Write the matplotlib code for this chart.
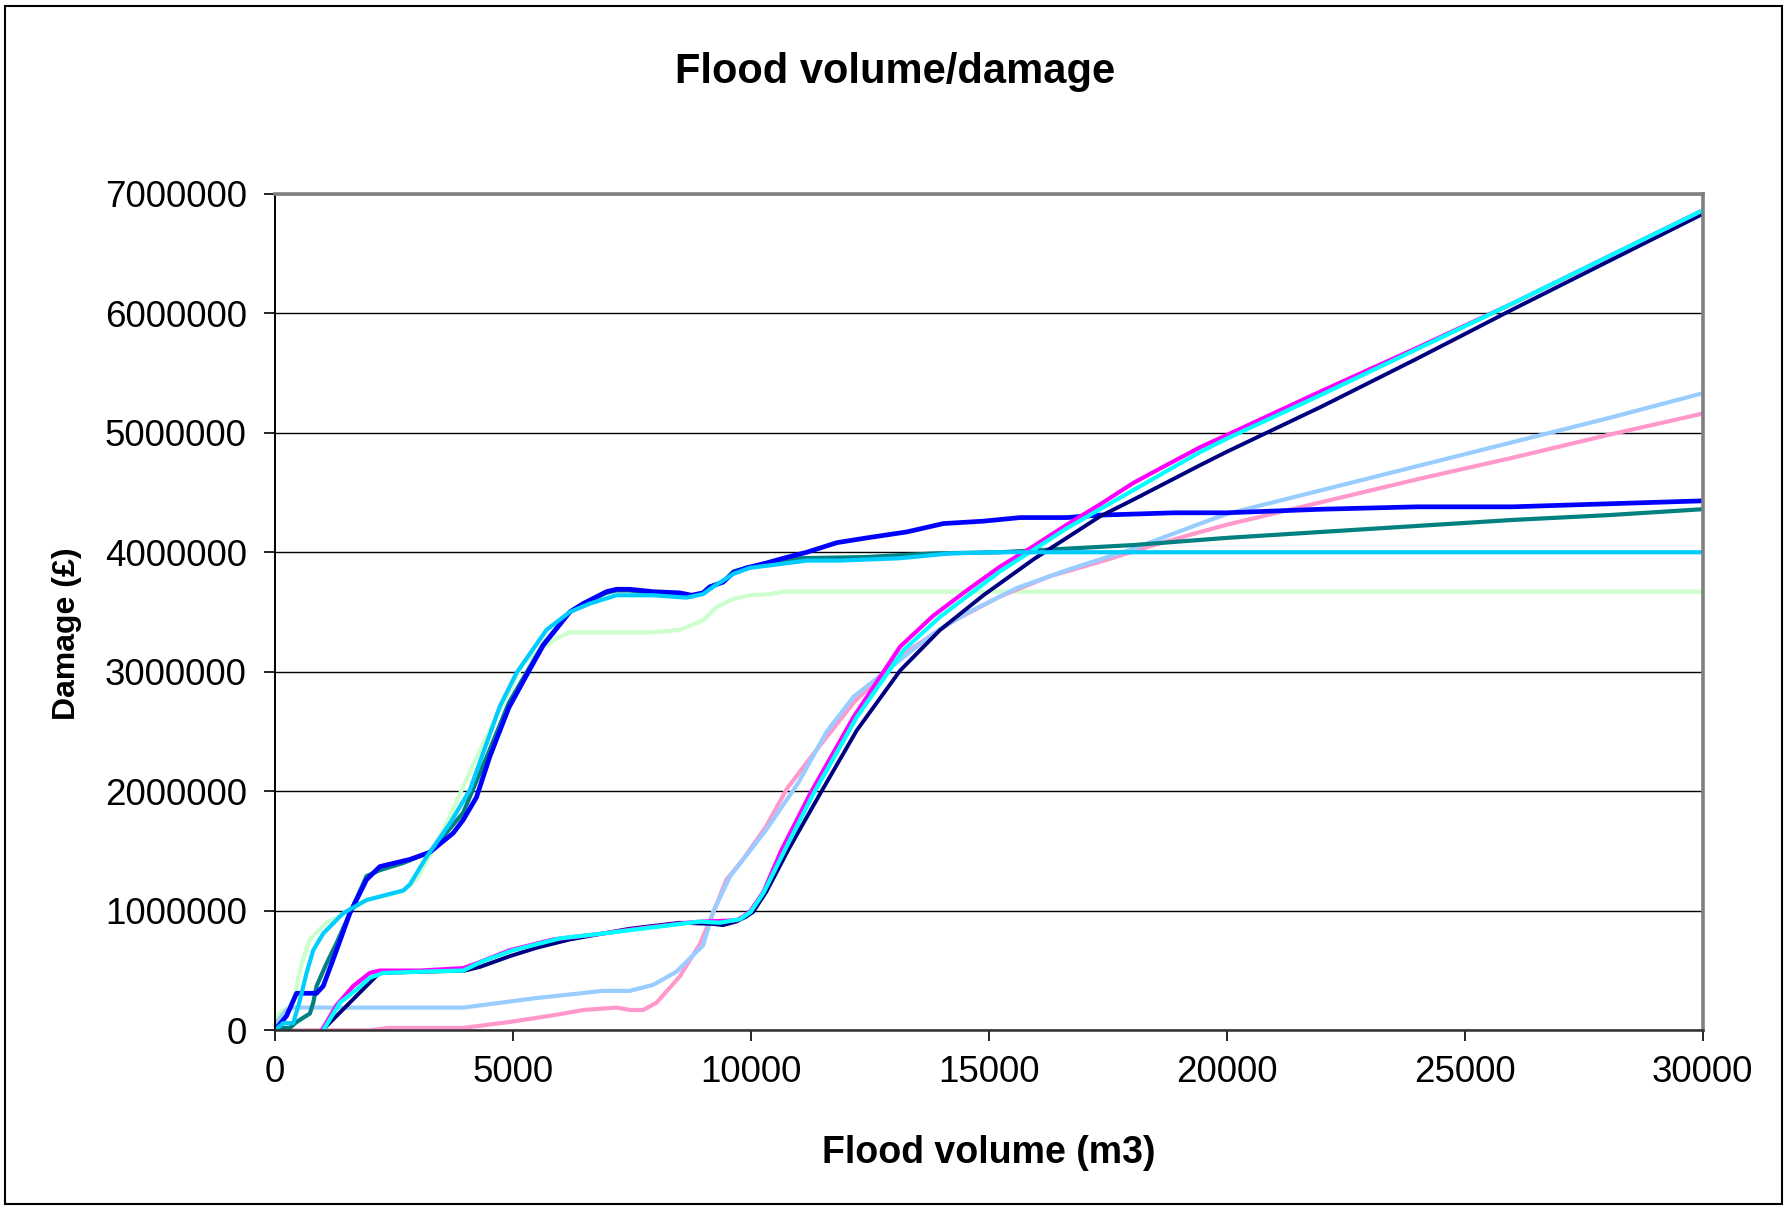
import matplotlib
matplotlib.use('Agg')
import matplotlib.pyplot as plt
from matplotlib.patches import Rectangle
from matplotlib.ticker import FuncFormatter

plt.rcParams['font.family'] = ['Liberation Sans', 'DejaVu Sans']

# values: flood volume in thousand m3, damage in million GBP
blue_x = [0, 0.25, 0.46, 0.88, 1.02, 1.3, 1.58, 1.93, 2.21, 2.84, 3.26, 3.75, 3.96, 4.24, 4.52, 4.92,
          5.36, 5.64, 6.2, 6.48, 6.97, 7.18, 7.46, 7.95, 8.51, 8.76, 9.0, 9.14, 9.42, 9.64, 9.92,
          10.33, 10.69, 11.18, 11.81, 12.44, 13.28, 14.05, 14.89, 15.66, 16.64, 17.3, 18.9, 20, 22, 24, 26, 30]
blue_y = [0, 0.12, 0.31, 0.31, 0.37, 0.67, 0.98, 1.26, 1.37, 1.43, 1.49, 1.65, 1.76, 1.95, 2.29, 2.70,
          3.02, 3.22, 3.50, 3.57, 3.67, 3.69, 3.69, 3.67, 3.66, 3.64, 3.66, 3.71, 3.75, 3.83, 3.87,
          3.91, 3.95, 4.0, 4.08, 4.12, 4.17, 4.24, 4.26, 4.29, 4.29, 4.31, 4.33, 4.33, 4.36, 4.38, 4.38, 4.43]

teal_x = [0, 0.32, 0.46, 0.74, 0.81, 0.88, 1.09, 1.3, 1.58, 1.93, 2.21, 2.7, 3.26, 3.96, 4.52, 4.92,
          5.36, 5.64, 6.2, 6.48, 6.97, 7.18, 7.46, 7.95, 8.51, 8.76, 9.0, 9.14, 9.42, 9.64, 9.92,
          10.33, 11.04, 12.44, 13.84, 15.24, 16.64, 18.04, 20, 22, 24, 26, 28, 30]
teal_y = [0.02, 0.02, 0.07, 0.14, 0.23, 0.37, 0.56, 0.73, 0.98, 1.29, 1.34, 1.40, 1.49, 1.82, 2.35, 2.74,
          3.04, 3.23, 3.50, 3.57, 3.66, 3.68, 3.68, 3.66, 3.65, 3.63, 3.66, 3.71, 3.75, 3.84, 3.87,
          3.90, 3.95, 3.96, 3.99, 4.0, 4.03, 4.06, 4.12, 4.17, 4.22, 4.27, 4.31, 4.36]

sky_x = [0, 0.18, 0.39, 0.53, 0.67, 0.81, 1.02, 1.44, 1.93, 2.7, 2.84, 3.19, 3.68, 4.1, 4.73,
         5.08, 5.36, 5.71, 6.2, 6.62, 7.18, 7.95, 8.65, 9.0, 9.21, 9.64, 9.99, 10.4, 11.18, 11.88,
         13.14, 14.19, 15.24, 30]
sky_y = [0, 0.06, 0.06, 0.25, 0.48, 0.67, 0.81, 0.98, 1.09, 1.17, 1.22, 1.45, 1.73, 2.01, 2.71,
         2.99, 3.15, 3.35, 3.50, 3.57, 3.64, 3.64, 3.62, 3.65, 3.71, 3.82, 3.87, 3.89, 3.93, 3.93,
         3.95, 3.99, 4.0, 4.0]

green_x = [0, 0.08, 0.32, 0.43, 0.57, 0.74, 1.09, 1.58, 1.93, 2.7, 2.98, 3.33, 3.68, 4.03, 4.38, 4.73,
           5.22, 5.57, 5.92, 6.2, 7.95, 8.51, 9.0, 9.28, 9.64, 9.99, 10.4, 10.69, 30]
green_y = [0, 0.14, 0.20, 0.31, 0.56, 0.76, 0.90, 1.0, 1.09, 1.16, 1.26, 1.51, 1.79, 2.10, 2.40, 2.68,
           3.07, 3.18, 3.28, 3.33, 3.33, 3.35, 3.43, 3.54, 3.61, 3.64, 3.65, 3.67, 3.67]

magenta_x = [0.99, 1.3, 1.65, 2.0, 2.21, 3.05, 3.96, 4.24, 4.94, 5.85, 6.9, 7.6, 8.65, 9.0, 9.7, 9.84,
             10.0, 10.27, 10.65, 11.25, 12.16, 13.14, 13.84, 14.54, 15.24, 15.94, 16.64, 17.34,
             18.04, 18.74, 19.45, 20, 22, 24, 26, 28, 30]
magenta_y = [0, 0.21, 0.37, 0.48, 0.50, 0.50, 0.52, 0.56, 0.67, 0.76, 0.81, 0.85, 0.90, 0.91, 0.92, 0.95,
             1.0, 1.16, 1.51, 1.98, 2.62, 3.21, 3.47, 3.68, 3.88, 4.05, 4.23, 4.40,
             4.58, 4.73, 4.88, 4.98, 5.35, 5.71, 6.08, 6.47, 6.86]

cyan_x = [1.02, 1.37, 1.72, 2.0, 2.28, 3.05, 3.96, 4.38, 5.01, 6.0, 6.9, 8.93, 9.35, 9.78, 10.0, 10.27,
          10.72, 11.32, 12.23, 13.21, 13.98, 15.24, 16.64, 18.04, 19.45, 20, 22, 24, 26, 28, 30]
cyan_y = [0, 0.23, 0.34, 0.44, 0.48, 0.49, 0.50, 0.58, 0.67, 0.77, 0.81, 0.91, 0.90, 0.93, 0.99, 1.15,
          1.51, 1.98, 2.62, 3.18, 3.46, 3.84, 4.20, 4.52, 4.84, 4.95, 5.32, 5.70, 6.08, 6.47, 6.86]

navy_x = [1.0, 2.2, 4.0, 4.31, 4.94, 5.5, 6.2, 7.46, 8.51, 9.21, 9.42, 9.7, 9.9, 10.05, 10.33,
          10.79, 11.46, 12.23, 13.14, 13.98, 14.89, 15.94, 17.34, 18.04, 19.45, 20, 22, 24, 26, 28, 30]
navy_y = [0, 0.48, 0.50, 0.53, 0.62, 0.69, 0.76, 0.85, 0.90, 0.89, 0.88, 0.91, 0.95, 0.99, 1.16,
          1.51, 1.98, 2.51, 3.01, 3.35, 3.64, 3.94, 4.30, 4.44, 4.73, 4.84, 5.22, 5.62, 6.03, 6.43, 6.83]

lightblue_x = [0, 0.08, 0.25, 0.39, 3.96, 5.5, 6.9, 7.46, 7.95, 8.44, 9.0, 9.21, 9.57, 10.0, 10.33,
               11.0, 11.6, 12.16, 12.86, 13.84, 14.54, 15.59, 16.64, 18.04, 19.45, 20, 22, 24, 26, 28, 30]
lightblue_y = [0, 0.09, 0.17, 0.19, 0.19, 0.27, 0.33, 0.33, 0.38, 0.49, 0.71, 0.99, 1.29, 1.51, 1.68,
               2.07, 2.50, 2.79, 3.01, 3.32, 3.49, 3.70, 3.85, 4.03, 4.24, 4.32, 4.52, 4.72, 4.92, 5.12, 5.33]

pink_x = [0, 2.0, 2.37, 3.96, 4.94, 5.92, 6.48, 7.18, 7.46, 7.74, 8.02, 8.51, 8.93, 9.21, 9.49, 9.84,
          10.33, 10.76, 11.39, 12.16, 13.14, 14.19, 15.24, 16.29, 17.34, 18.39, 19.45, 20, 22, 24, 26, 28, 30]
pink_y = [0, 0, 0.02, 0.02, 0.07, 0.13, 0.17, 0.19, 0.17, 0.17, 0.23, 0.45, 0.72, 0.98, 1.26, 1.43,
          1.71, 2.02, 2.35, 2.74, 3.13, 3.41, 3.63, 3.80, 3.92, 4.05, 4.17, 4.23, 4.42, 4.61, 4.79, 4.98, 5.16]

x_ticks = [0, 5000, 10000, 15000, 20000, 25000, 30000]
y_ticks = [0, 1000000, 2000000, 3000000, 4000000, 5000000, 6000000, 7000000]

series = [
    (green_x, green_y, '#CCFFCC', 3.0),
    (pink_x, pink_y, '#FF99CC', 3.0),
    (lightblue_x, lightblue_y, '#99CCFF', 3.0),
    (teal_x, teal_y, '#008080', 3.0),
    (blue_x, blue_y, '#0000FF', 3.4),
    (navy_x, navy_y, '#000080', 2.8),
    (magenta_x, magenta_y, '#FF00FF', 3.0),
    (cyan_x, cyan_y, '#00FFFF', 3.0),
    (sky_x, sky_y, '#00CCFF', 3.0),
]

fig = plt.figure(figsize=(17.87, 12.09), dpi=100)
ax = fig.add_axes([0.1537, 0.1478, 0.7991, 0.692])

for xs, ys, col, lw in series:
    ax.plot([v * 1000 for v in xs], [v * 1e6 for v in ys], color=col, lw=lw,
            solid_joinstyle='round', solid_capstyle='round')

ax.set_xlim(0, 30000)
ax.set_ylim(0, 7000000)
ax.set_xticks(x_ticks)
ax.set_yticks(y_ticks)
ax.xaxis.set_major_formatter(FuncFormatter(lambda v, p: '%d' % v))
ax.yaxis.set_major_formatter(FuncFormatter(lambda v, p: '%d' % v))
ax.tick_params(axis='both', direction='out', length=8, width=1.2, labelsize=26.5, colors='black')
ax.tick_params(axis='y', pad=12)
ax.tick_params(axis='x', pad=10)
ax.grid(axis='y', color='black', lw=1.0)
ax.set_axisbelow(True)

for side in ['top', 'right']:
    ax.spines[side].set_color('#808080')
    ax.spines[side].set_linewidth(2.6)
ax.spines['left'].set_color('black')
ax.spines['left'].set_linewidth(1.4)
ax.spines['bottom'].set_color('#303030')
ax.spines['bottom'].set_linewidth(1.8)

fig.text(0.5008, 0.9405, 'Flood volume/damage', ha='center', va='center', fontsize=30, fontweight='bold')
fig.text(0.5534, 0.0465, 'Flood volume (m3)', ha='center', va='center', fontsize=27, fontweight='bold')
fig.text(0.0375, 0.4756, 'Damage (£)', ha='center', va='center', rotation=90, fontsize=23,
         fontweight='bold')

fig.patches.append(Rectangle((0.003, 0.004), 0.994, 0.991, transform=fig.transFigure,
                             fill=False, edgecolor='black', lw=1.5))

fig.savefig('out.png', dpi=100)
